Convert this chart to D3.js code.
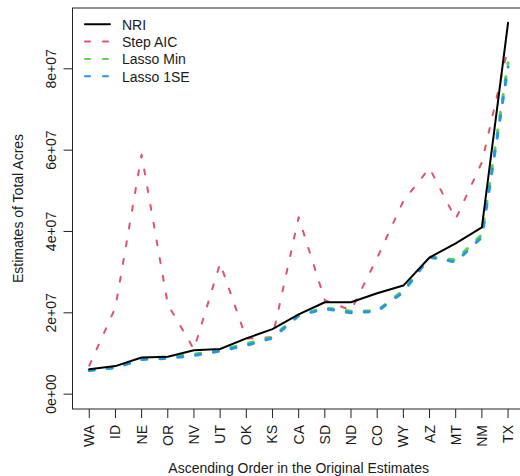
<!DOCTYPE html>
<html>
<head>
<meta charset="utf-8">
<script src="https://cdn.jsdelivr.net/npm/d3@7"></script>
<style>
  body { margin: 0; background: #fff; }
  text { font-family: "Liberation Sans", Arial, sans-serif; font-size: 14px; fill: #1a1a1a; }
</style>
</head>
<body>
<script>
// states in ascending order of the original (NRI) estimates
var states = ["WA", "ID", "NE", "OR", "NV", "UT", "OK", "KS", "CA", "SD", "ND", "CO", "WY", "AZ", "MT", "NM", "TX"];

// estimates, millions of acres
var nri = [6.1, 6.9, 9.0, 9.2, 10.8, 11.1, 13.7, 16.0, 19.6, 22.6, 22.6, 24.8, 26.7, 33.6, 37.1, 41.0, 91.3];
var stepAIC = [7.0, 21.3, 58.9, 22.1, 11.0, 32.2, 13.7, 14.0, 43.5, 23.1, 20.6, 33.5, 47.5, 55.6, 43.1, 57.0, 85.2];
var lassoMin = [5.9, 6.6, 8.7, 9.2, 9.8, 10.8, 12.4, 14.0, 19.5, 21.2, 20.4, 20.5, 25.5, 33.7, 33.0, 39.2, 81.5];
var lasso1SE = [5.8, 6.5, 8.5, 8.8, 9.5, 10.6, 12.0, 13.8, 19.3, 21.0, 20.0, 20.4, 25.1, 33.7, 32.5, 38.6, 80.5];

var yTicks = [0, 2e7, 4e7, 6e7, 8e7];
var yTickLabels = ["0e+00", "2e+07", "4e+07", "6e+07", "8e+07"];

var series = [
  { name: "Step AIC", values: stepAIC, color: "#DF536B", width: 2, dash: "5,13" },
  { name: "Lasso Min", values: lassoMin, color: "#61D04F", width: 3, dash: "5,13" },
  { name: "Lasso 1SE", values: lasso1SE, color: "#2297E6", width: 3, dash: "5,13" },
  { name: "NRI", values: nri, color: "#000", width: 2, dash: null }
];
var legendOrder = ["NRI", "Step AIC", "Lasso Min", "Lasso 1SE"];

var w = 520, h = 476;
var plotL = 72.5, plotR = 524.8, plotT = 8, plotB = 409;

// R style 4% padding on both axes
var n = states.length;
var xPad = (n - 1) * 0.04;
var yMax = d3.max(series, function (s) { return d3.max(s.values); }) * 1e6;
var yPad = yMax * 0.04;

var x = d3.scaleLinear().domain([1 - xPad, n + xPad]).range([plotL, plotR]);
var y = d3.scaleLinear().domain([-yPad, yMax + yPad]).range([plotB, plotT]);

var svg = d3.select("body").append("svg").attr("width", w).attr("height", h);

var line = d3
  .line()
  .x(function (d, i) { return x(i + 1); })
  .y(function (d) { return y(d * 1e6); });

svg
  .selectAll("path.series")
  .data(series)
  .enter()
  .append("path")
  .attr("class", "series")
  .attr("d", function (d) { return line(d.values); })
  .attr("fill", "none")
  .attr("stroke", function (d) { return d.color; })
  .attr("stroke-width", function (d) { return d.width; })
  .attr("stroke-dasharray", function (d) { return d.dash; })
  .attr("stroke-linecap", "round")
  .attr("stroke-linejoin", "round");

// plot box
svg
  .append("rect")
  .attr("x", plotL)
  .attr("y", plotT)
  .attr("width", plotR - plotL)
  .attr("height", plotB - plotT)
  .attr("fill", "none")
  .attr("stroke", "#222")
  .attr("stroke-width", 1);

// y axis
var yAxis = svg.append("g");
yAxis
  .selectAll("line")
  .data(yTicks)
  .enter()
  .append("line")
  .attr("x1", plotL - 9)
  .attr("x2", plotL)
  .attr("y1", function (d) { return y(d); })
  .attr("y2", function (d) { return y(d); })
  .attr("stroke", "#222");
yAxis
  .selectAll("text")
  .data(yTicks)
  .enter()
  .append("text")
  .attr("transform", function (d) { return "translate(56," + y(d) + ") rotate(-90)"; })
  .attr("text-anchor", "middle")
  .text(function (d, i) { return yTickLabels[i]; });

// x axis
var xAxis = svg.append("g");
xAxis
  .selectAll("line")
  .data(states)
  .enter()
  .append("line")
  .attr("x1", function (d, i) { return x(i + 1); })
  .attr("x2", function (d, i) { return x(i + 1); })
  .attr("y1", plotB)
  .attr("y2", plotB + 9)
  .attr("stroke", "#222");
xAxis
  .selectAll("text")
  .data(states)
  .enter()
  .append("text")
  .attr("transform", function (d, i) { return "translate(" + (x(i + 1) + 5) + ",425) rotate(-90)"; })
  .attr("text-anchor", "end")
  .text(function (d) { return d; });

svg
  .append("text")
  .attr("x", (plotL + plotR) / 2)
  .attr("y", 473)
  .attr("text-anchor", "middle")
  .text("Ascending Order in the Original Estimates");

svg
  .append("text")
  .attr("transform", "translate(23," + (plotT + plotB) / 2 + ") rotate(-90)")
  .attr("text-anchor", "middle")
  .text("Estimates of Total Acres");

// legend, no box
var legend = svg
  .selectAll("g.legend")
  .data(legendOrder)
  .enter()
  .append("g")
  .attr("class", "legend")
  .attr("transform", function (d, i) { return "translate(0," + (24.3 + i * 17.3) + ")"; });

legend
  .append("line")
  .attr("x1", 85)
  .attr("x2", 110)
  .attr("stroke", function (d) { return series.find(function (s) { return s.name == d; }).color; })
  .attr("stroke-width", 2)
  .attr("stroke-dasharray", function (d) { return series.find(function (s) { return s.name == d; }).dash; })
  .attr("stroke-linecap", "round");

legend
  .append("text")
  .attr("x", 122)
  .attr("y", 5.5)
  .text(function (d) { return d; });
</script>
</body>
</html>
